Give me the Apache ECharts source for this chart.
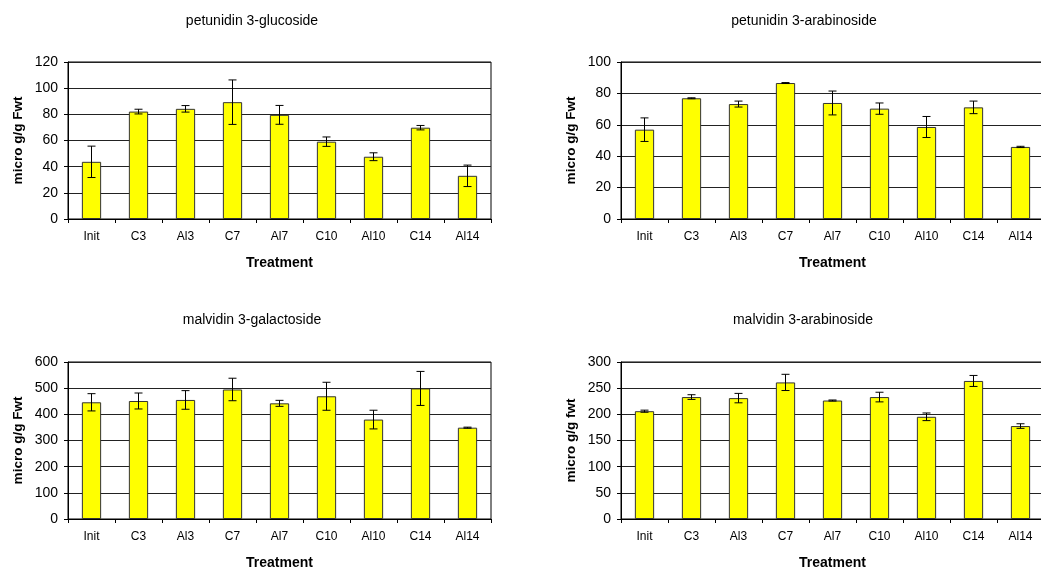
<!DOCTYPE html>
<html>
<head>
<meta charset="utf-8">
<script src="https://cdn.jsdelivr.net/npm/echarts@6/dist/echarts.min.js"></script>
<style>
  html, body { margin: 0; padding: 0; background: #fff; }
  #chart { width: 1041px; height: 572px; }
</style>
</head>
<body>
<div id="chart"></div>
<script>
const treatments = ['Init', 'C3', 'Al3', 'C7', 'Al7', 'C10', 'Al10', 'C14', 'Al14'];

// petunidin 3-glucoside
const petGluMean = [43.7, 82.1, 84.2, 89.3, 79.6, 59.1, 47.6, 69.8, 33.0];
const petGluErr = [12, 1.8, 2.5, 17, 7.2, 3.6, 3, 1.7, 8.2];
// petunidin 3-arabinoside
const petAraMean = [56.9, 76.9, 73.2, 86.6, 73.9, 70.3, 58.6, 71.1, 45.9];
const petAraErr = [7.5, 0.3, 1.9, 0.3, 7.6, 3.6, 6.7, 4, 0.4];
// malvidin 3-galactoside
const malGalMean = [446, 451, 455, 495, 442, 469, 380, 499, 349];
const malGalErr = [33, 30.5, 35.6, 43, 11.5, 53.5, 35.7, 65, 2];
// malvidin 3-arabinoside
const malAraMean = [206, 233, 231, 261, 226.4, 233, 195.3, 263.8, 177.6];
const malAraErr = [2, 4.5, 9, 15.5, 1, 9.2, 7.3, 10.5, 4.4];

const panels = [
  { title: 'petunidin 3-glucoside', yName: 'micro g/g Fwt', mean: petGluMean, err: petGluErr, max: 120, step: 20 },
  { title: 'petunidin 3-arabinoside', yName: 'micro g/g Fwt', mean: petAraMean, err: petAraErr, max: 100, step: 20 },
  { title: 'malvidin 3-galactoside', yName: 'micro g/g Fwt', mean: malGalMean, err: malGalErr, max: 600, step: 100 },
  { title: 'malvidin 3-arabinoside', yName: 'micro g/g fwt', mean: malAraMean, err: malAraErr, max: 300, step: 50 }
];

// right-hand panels run off the edge of the page, like the original
const gridPos = [
  { left: 68, top: 62 },
  { left: 621, top: 62 },
  { left: 68, top: 362 },
  { left: 621, top: 362 }
];
const titlePos = [
  { left: 247, top: 9 },
  { left: 799, top: 9 },
  { left: 247, top: 308 },
  { left: 798, top: 308 }
];

const font = 'Liberation Sans, Arial, sans-serif';

const chart = echarts.init(document.getElementById('chart'));

const errorBar = (params, api) => {
  const x = api.value(0);
  const y = api.value(1);
  const e = api.value(2);
  const hi = api.coord([x, y + e]);
  const lo = api.coord([x, y - e]);
  const cap = 4;
  const style = { stroke: '#000', lineWidth: 1 };
  return {
    type: 'group',
    children: [
      { type: 'line', shape: { x1: hi[0], y1: hi[1], x2: lo[0], y2: lo[1] }, style },
      { type: 'line', shape: { x1: hi[0] - cap, y1: hi[1], x2: hi[0] + cap, y2: hi[1] }, style },
      { type: 'line', shape: { x1: lo[0] - cap, y1: lo[1], x2: lo[0] + cap, y2: lo[1] }, style }
    ]
  };
};

const option = {
  animation: false,
  backgroundColor: '#fff',
  title: panels.map((p, i) => ({
    text: p.title,
    left: titlePos[i].left,
    top: titlePos[i].top,
    textAlign: 'center',
    textStyle: { fontFamily: font, fontSize: 14, fontWeight: 'normal', color: '#000' }
  })),
  grid: gridPos.map((g) => ({
    left: g.left,
    top: g.top,
    width: 423,
    height: 157,
    outerBoundsMode: 'none',
    show: true,
    borderColor: '#000',
    borderWidth: 1,
    backgroundColor: '#fff'
  })),
  xAxis: panels.map((p, i) => ({
    type: 'category',
    gridIndex: i,
    data: treatments,
    name: 'Treatment',
    nameLocation: 'middle',
    nameGap: 37,
    nameTextStyle: { fontFamily: font, fontSize: 14, fontWeight: 'bold', color: '#000' },
    axisLine: { lineStyle: { color: '#000', width: 1 } },
    axisTick: { show: true, length: 4, lineStyle: { color: '#000' } },
    axisLabel: { fontFamily: font, fontSize: 12, color: '#000', margin: 12, interval: 0 },
    splitLine: { show: false }
  })),
  yAxis: panels.map((p, i) => ({
    type: 'value',
    gridIndex: i,
    min: 0,
    max: p.max,
    interval: p.step,
    name: p.yName,
    nameLocation: 'middle',
    nameGap: 43,
    nameTextStyle: { fontFamily: font, fontSize: 13.5, fontWeight: 'bold', color: '#000' },
    axisLine: { show: true, lineStyle: { color: '#000', width: 1 } },
    axisTick: { show: true, length: 4, lineStyle: { color: '#000' } },
    axisLabel: { fontFamily: font, fontSize: 14, color: '#000', margin: 10 },
    splitLine: { show: true, lineStyle: { color: '#222', width: 1 } }
  })),
  series: panels.flatMap((p, i) => [
    {
      type: 'bar',
      xAxisIndex: i,
      yAxisIndex: i,
      data: p.mean,
      barWidth: '41%',
      itemStyle: { color: '#ffff00', borderColor: '#333', borderWidth: 1 }
    },
    {
      type: 'custom',
      xAxisIndex: i,
      yAxisIndex: i,
      renderItem: errorBar,
      encode: { x: 0, y: 1 },
      data: p.mean.map((m, k) => [k, m, p.err[k]]),
      z: 10
    }
  ])
};

chart.setOption(option);
</script>
</body>
</html>
